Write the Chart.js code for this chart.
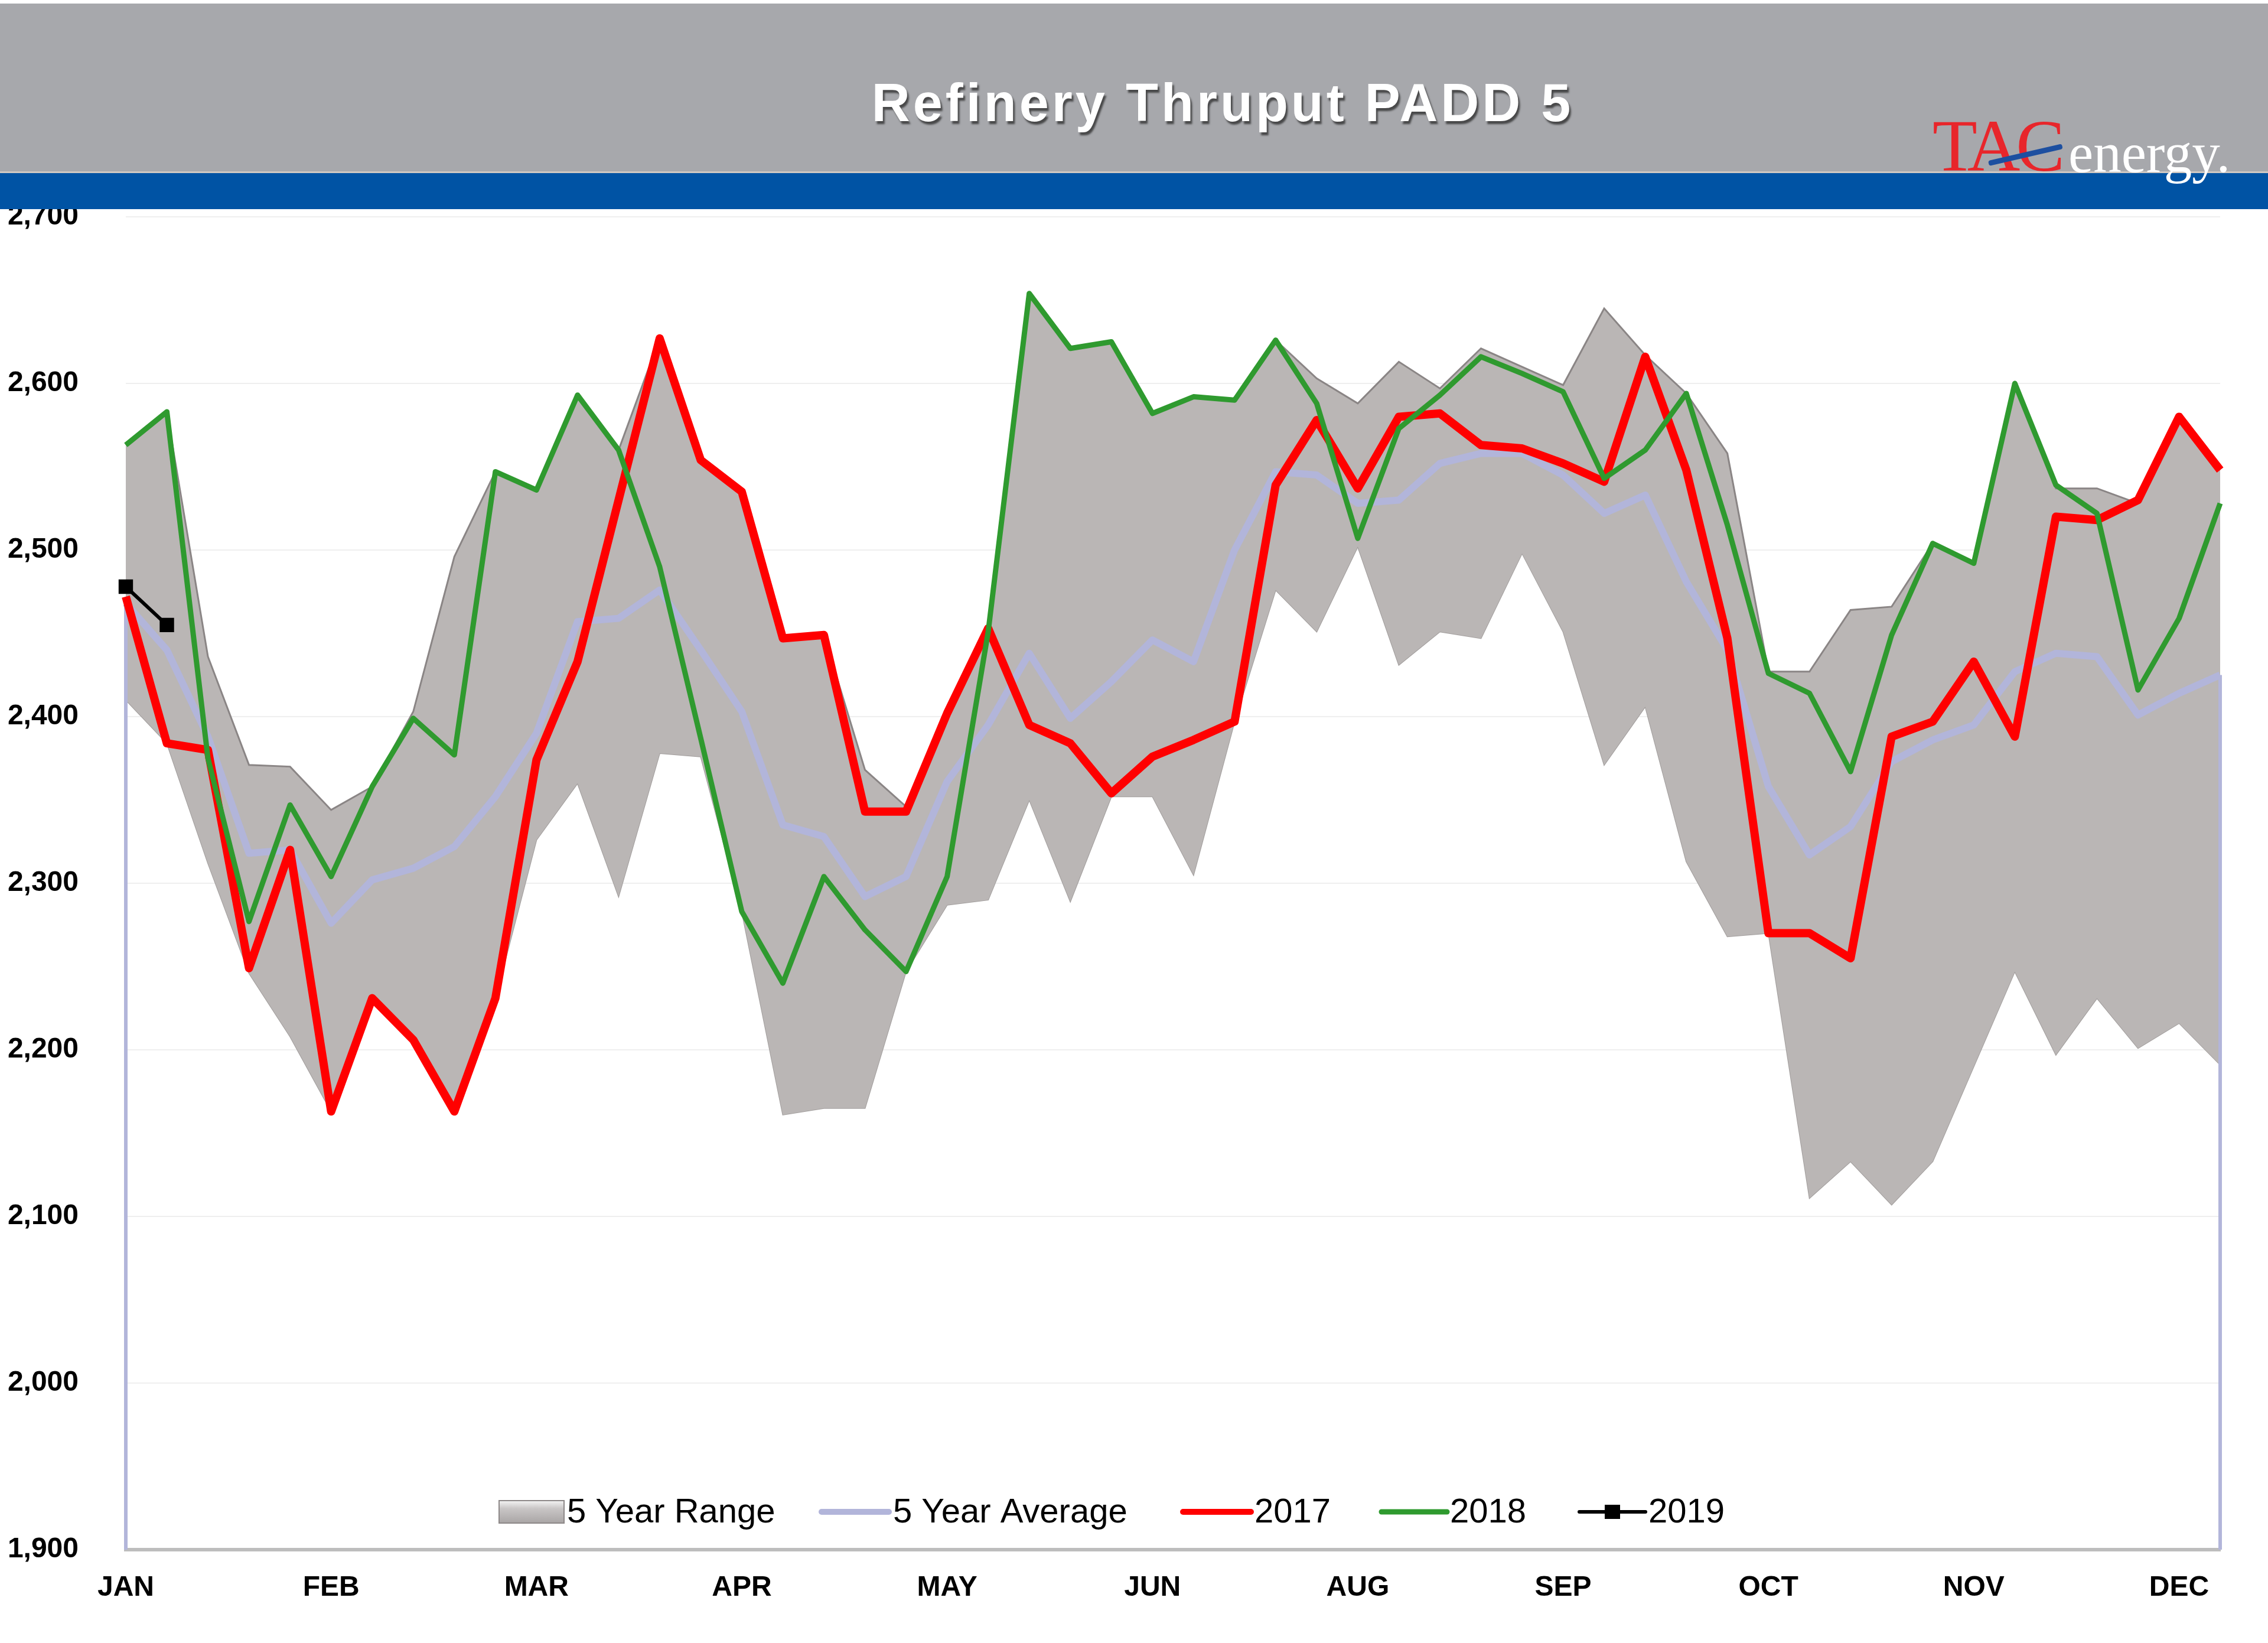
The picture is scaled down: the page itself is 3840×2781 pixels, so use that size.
<!DOCTYPE html>
<html>
<head>
<meta charset="utf-8">
<script src="https://cdn.jsdelivr.net/npm/chart.js@4.4.0/dist/chart.umd.min.js"></script>
<style>
html,body{margin:0;padding:0;background:#ffffff;width:3840px;height:2781px;overflow:hidden;}
#wrap{position:relative;width:3840px;height:2781px;}
#c{position:absolute;left:0;top:0;}
#hdr{position:absolute;left:0;top:6px;width:3840px;height:284px;background:#a7a8ac;}
#blue{position:absolute;left:0;top:290px;width:3840px;height:64px;background:#0053a4;border-top:3px solid #cfc8c2;box-sizing:border-box;}
#title{position:absolute;left:2070px;top:129px;transform:translateX(-50%);white-space:nowrap;
  font-family:"Liberation Sans",Arial,sans-serif;font-weight:bold;font-size:90px;line-height:90px;
  letter-spacing:5px;color:#ffffff;text-shadow:3px 5px 3px rgba(40,40,40,0.75);}
.logo{position:absolute;white-space:nowrap;font-family:"Liberation Serif","Times New Roman",serif;}
#tac{left:3272px;top:186px;font-size:124px;line-height:124px;color:#e8262b;letter-spacing:-7px;}
#energy{left:3502px;top:212px;font-size:95px;line-height:95px;color:#ffffff;}
#swoosh{position:absolute;left:3367px;top:272px;width:128px;height:9px;background:#1d4fa0;
  transform:rotate(-13deg);transform-origin:left center;border-radius:4px;}
</style>
</head>
<body>
<div id="wrap">
<canvas id="c" width="3840" height="2781" style="width:3840px;height:2781px"></canvas>
<div id="hdr"></div>
<div id="blue"></div>
<div id="title">Refinery Thruput PADD 5</div>
<div class="logo" id="tac">TAC</div>
<div id="swoosh"></div>
<div class="logo" id="energy">energy.</div>
</div>
<script>
// ---- data ----
const weeks = ['W1','W2','W3','W4','W5','W6','W7','W8','W9','W10','W11','W12','W13','W14','W15','W16','W17','W18','W19','W20','W21','W22','W23','W24','W25','W26','W27','W28','W29','W30','W31','W32','W33','W34','W35','W36','W37','W38','W39','W40','W41','W42','W43','W44','W45','W46','W47','W48','W49','W50','W51','W52'];
const monthTicks = ['JAN','FEB','MAR','APR','MAY','JUN','AUG','SEP','OCT','NOV','DEC'];

const rangeHigh = [2563,2583,2436,2371,2370,2344,2358,2403,2496,2547,2536,2593,2560,2627,2554,2535,2447,2449,2368,2346,2402,2453,2654,2621,2625,2582,2592,2590,2626,2603,2588,2613,2597,2621,2610,2599,2645,2617,2594,2558,2427,2427,2464,2466,2504,2492,2600,2537,2537,2528,2580,2548];
const rangeLow  = [2410,2384,2312,2246,2208,2163,2231,2206,2163,2231,2326,2360,2292,2378,2376,2283,2161,2165,2165,2247,2287,2290,2350,2289,2352,2352,2305,2397,2476,2451,2502,2431,2451,2447,2498,2451,2371,2406,2313,2268,2270,2111,2133,2107,2133,2190,2247,2197,2231,2201,2216,2191];
const avg5      = [2468,2440,2388,2318,2320,2276,2302,2309,2322,2352,2390,2457,2459,2476,2440,2403,2335,2328,2292,2304,2361,2395,2438,2399,2421,2446,2433,2500,2547,2545,2528,2530,2552,2558,2558,2545,2522,2533,2481,2440,2358,2317,2334,2373,2386,2395,2427,2438,2436,2401,2414,2425];
const y2017     = [2472,2384,2380,2249,2320,2163,2231,2206,2163,2231,2374,2433,2530,2627,2554,2535,2447,2449,2343,2343,2402,2453,2395,2384,2354,2376,2386,2397,2539,2578,2537,2580,2582,2563,2561,2552,2541,2616,2548,2447,2270,2270,2255,2388,2397,2433,2388,2520,2518,2530,2580,2548];
const y2018     = [2563,2583,2375,2277,2347,2304,2358,2399,2377,2547,2536,2593,2560,2490,2387,2283,2240,2304,2272,2247,2304,2451,2654,2621,2625,2582,2592,2590,2626,2588,2507,2573,2593,2616,2606,2595,2543,2560,2594,2515,2426,2414,2367,2449,2504,2492,2600,2539,2522,2416,2459,2528];
const y2019     = [2478,2455];

const axisMin = 1900, axisMax = 2700, axisStep = 100;

// ---- custom legend drawn inside the plot area ----
const legendPlugin = {
  id: 'insideLegend',
  afterDraw(chart) {
    const c = chart.ctx;
    const y = 2559;
    c.save();
    c.font = '58px "Liberation Sans", Arial, sans-serif';
    c.textBaseline = 'middle';
    c.fillStyle = '#000';
    const g = c.createLinearGradient(0, y - 19, 0, y + 19);
    g.addColorStop(0, '#f4f4f4'); g.addColorStop(0.35, '#c9c6c6'); g.addColorStop(1, '#a9a5a5');
    c.fillStyle = g; c.fillRect(845, y - 19, 110, 38);
    c.strokeStyle = '#8d8888'; c.lineWidth = 2; c.strokeRect(845, y - 19, 110, 38);
    c.fillStyle = '#000'; c.fillText('5 Year Range', 960, y + 2);
    const ds = chart.data.datasets;
    const items = [
      {i: 2, x1: 1391, x2: 1505, tx: 1512},
      {i: 3, x1: 2003, x2: 2118, tx: 2124},
      {i: 4, x1: 2339, x2: 2450, tx: 2455},
      {i: 5, x1: 2674, x2: 2786, tx: 2791, marker: true}
    ];
    items.forEach(it => {
      const d = ds[it.i];
      c.strokeStyle = d.borderColor; c.lineWidth = Math.min(d.borderWidth, 10);
      c.lineCap = 'round';
      c.beginPath(); c.moveTo(it.x1, y); c.lineTo(it.x2, y); c.stroke();
      if (it.marker) { c.fillStyle = '#000'; c.fillRect((it.x1 + it.x2) / 2 - 13, y - 12, 26, 24); }
      c.fillStyle = '#000'; c.fillText(d.label, it.tx, y + 2);
    });
    c.restore();
  }
};

const ctx = document.getElementById('c');
new Chart(ctx, {
  type: 'line',
  data: {
    labels: weeks,
    datasets: [
      {label: '5 Year Range', data: rangeHigh, borderColor: '#8a8585', borderWidth: 3,
       backgroundColor: '#bab6b5', fill: '+1', pointRadius: 0, order: 7},
      {label: '5 Year Range low', data: rangeLow, borderColor: '#a19d9c', borderWidth: 2,
       fill: false, pointRadius: 0, order: 8},
      {label: '5 Year Average', data: avg5, borderColor: '#b2b5da', borderWidth: 12,
       pointRadius: 0, fill: false, order: 4, borderJoinStyle: 'round'},
      {label: '2017', data: y2017, borderColor: '#ff0000', borderWidth: 14,
       pointRadius: 0, fill: false, order: 3, borderJoinStyle: 'round'},
      {label: '2018', data: y2018, borderColor: '#2f9a2f', borderWidth: 9,
       pointRadius: 0, fill: false, order: 2, borderJoinStyle: 'round'},
      {label: '2019', data: y2019, borderColor: '#000000', borderWidth: 6,
       pointStyle: 'rect', pointRadius: 13, pointBackgroundColor: '#000', pointBorderColor: '#000',
       fill: false, order: 1},
      {label: 'avg-left-edge', data: [{x: weeks[0], y: avg5[0]}, {x: weeks[0], y: axisMin}],
       borderColor: '#b2b5da', borderWidth: 6, pointRadius: 0, fill: false, order: 5},
      {label: 'avg-right-edge', data: [{x: weeks[51], y: avg5[51]}, {x: weeks[51], y: axisMin}],
       borderColor: '#b2b5da', borderWidth: 6, pointRadius: 0, fill: false, order: 5}
    ]
  },
  options: {
    responsive: false,
    devicePixelRatio: 1,
    animation: false,
    layout: {padding: {top: 367, right: 81, bottom: 0, left: 0}},
    plugins: {legend: {display: false}, tooltip: {enabled: false}},
    elements: {line: {tension: 0}},
    scales: {
      x: {
        offset: false,
        grid: {display: false, drawTicks: false},
        border: {display: true, color: '#bdbdbd', width: 6},
        ticks: {
          autoSkip: false, maxRotation: 0, minRotation: 0, padding: 36,
          color: '#000',
          font: {family: '"Liberation Sans", Arial, sans-serif', size: 48, weight: 'bold'},
          callback: (v, i) => (i % 5 === 0 ? monthTicks[i / 5] : '')
        },
        afterFit: s => { s.height = 158; }
      },
      y: {
        min: axisMin, max: axisMax,
        grid: {color: '#efefef', lineWidth: 2, drawTicks: false},
        border: {display: false},
        ticks: {
          stepSize: axisStep, padding: 80, color: '#000',
          font: {family: '"Liberation Sans", Arial, sans-serif', size: 48, weight: 'bold'},
          callback: v => v.toLocaleString('en-US')
        },
        afterFit: s => { s.width = 213; }
      }
    }
  },
  plugins: [legendPlugin]
});
</script>
</body>
</html>
